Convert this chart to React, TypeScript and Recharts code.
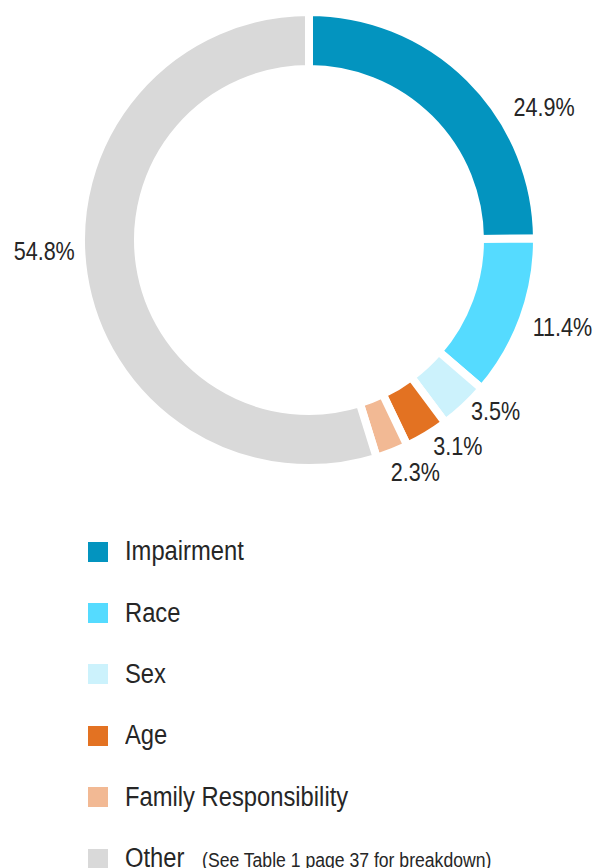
import React from 'react';
import { PieChart, Pie, Cell, Legend } from 'recharts';

const categories = ['Impairment', 'Race', 'Sex', 'Age', 'Family Responsibility', 'Other'];
const shares = [24.9, 11.4, 3.5, 3.1, 2.3, 54.8];
const colors = ['#0394bf', '#55dbff', '#ccf2fc', '#e37222', '#f2b994', '#d9d9d9'];
const legendNotes = ['', '', '', '', '', '(See Table 1 page 37 for breakdown)'];

// label placement tweaks: [angle shift in degrees, radius]
const labelNudge: [number, number][] = [
  [-15.7, 270],
  [1.2, 268],
  [4.5, 253],
  [4.7, 254],
  [3.2, 255],
  [-6.3, 265],
];

const data = categories.map((name, i) => ({ name, value: shares[i] }));

// no narrow font installed, so squeeze Liberation Sans horizontally
const FONT = "'Liberation Sans', Arial, sans-serif";
const LABEL_SQUEEZE = 0.83;
const LEGEND_SQUEEZE = 0.88;
const RADIAN = Math.PI / 180;

const renderLabel = (props: any) => {
  const { cx, cy, midAngle, index, value } = props;
  const [shift, r] = labelNudge[index];
  const a = (midAngle + shift) * RADIAN;
  const x = cx + r * Math.cos(-a);
  const y = cy + r * Math.sin(-a);
  return (
    <g transform={`translate(${x},${y}) scale(${LABEL_SQUEEZE},1)`}>
      <text
        x={0}
        y={0}
        fill="#262626"
        textAnchor="middle"
        dominantBaseline="central"
        fontSize={26}
        fontFamily={FONT}
      >
        {`${value.toFixed(1)}%`}
      </text>
    </g>
  );
};

const narrow: React.CSSProperties = {
  display: 'inline-block',
  transform: `scaleX(${LEGEND_SQUEEZE})`,
  transformOrigin: 'left center',
  whiteSpace: 'nowrap',
};

const renderLegend = (props: any) => {
  const items = [...(props.payload || [])].sort(
    (a: any, b: any) => categories.indexOf(a.value) - categories.indexOf(b.value)
  );
  return (
    <div style={{ fontFamily: FONT, color: '#262626' }}>
      {items.map((entry: any) => {
        const i = categories.indexOf(entry.value);
        return (
          <div key={entry.value} style={{ display: 'flex', alignItems: 'center', height: 61.4 }}>
            <span
              style={{ width: 20, height: 20, background: colors[i], display: 'inline-block', marginRight: 17, flexShrink: 0 }}
            />
            <span style={{ ...narrow, fontSize: 27 }}>
              {entry.value}
              {legendNotes[i] && (
                <span style={{ fontSize: 20, marginLeft: 20 }}>{legendNotes[i]}</span>
              )}
            </span>
          </div>
        );
      })}
    </div>
  );
};

const App: React.FC = () => {
  return (
    <div style={{ position: 'absolute', left: 0, top: 0, width: 597, height: 868, background: '#fff' }}>
      <PieChart width={597} height={868} margin={{ top: 0, right: 0, bottom: 0, left: 0 }}>
        <Pie
          data={data}
          dataKey="value"
          nameKey="name"
          cx={309}
          cy={240}
          outerRadius={228}
          innerRadius={171}
          startAngle={90}
          endAngle={-270}
          stroke="#ffffff"
          strokeWidth={8}
          label={renderLabel}
          labelLine={false}
          isAnimationActive={false}
        >
          {data.map((d, i) => (
            <Cell key={d.name} fill={colors[i]} />
          ))}
        </Pie>
        <Legend
          content={renderLegend}
          layout="vertical"
          wrapperStyle={{ left: 88, top: 521, width: 509, bottom: 'auto' }}
        />
      </PieChart>
    </div>
  );
};

export default App;
